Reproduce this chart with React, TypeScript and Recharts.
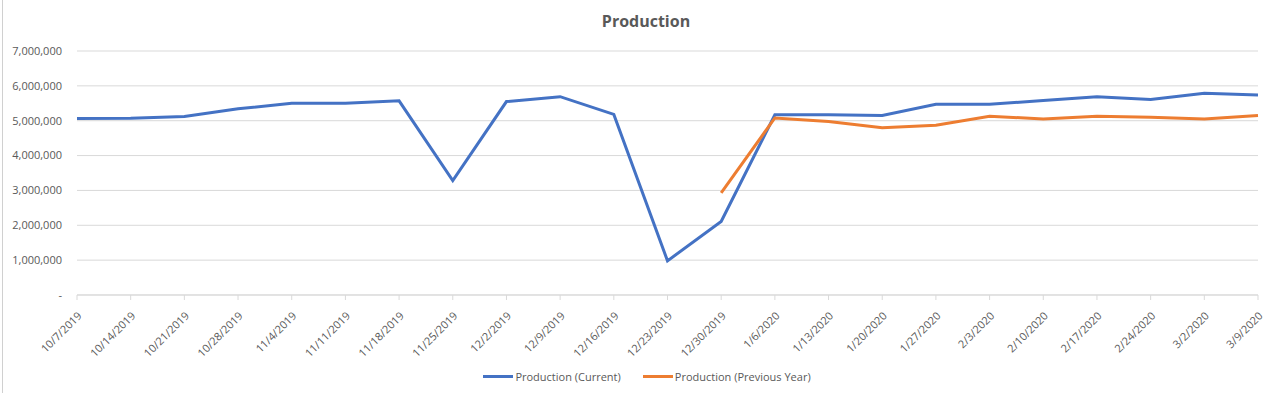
import { CartesianGrid, Legend, Line, LineChart, XAxis, YAxis } from 'recharts';

const weeks = [
  '10/7/2019', '10/14/2019', '10/21/2019', '10/28/2019', '11/4/2019', '11/11/2019',
  '11/18/2019', '11/25/2019', '12/2/2019', '12/9/2019', '12/16/2019', '12/23/2019',
  '12/30/2019', '1/6/2020', '1/13/2020', '1/20/2020', '1/27/2020', '2/3/2020',
  '2/10/2020', '2/17/2020', '2/24/2020', '3/2/2020', '3/9/2020',
];

const current = [
  5060000, 5070000, 5120000, 5340000, 5500000, 5500000,
  5570000, 3280000, 5550000, 5690000, 5180000, 980000,
  2110000, 5170000, 5170000, 5150000, 5470000, 5470000,
  5580000, 5690000, 5610000, 5790000, 5740000,
];

const previousYear: (number | null)[] = [
  null, null, null, null, null, null,
  null, null, null, null, null, null,
  2930000, 5080000, 4980000, 4800000, 4870000, 5130000,
  5050000, 5130000, 5100000, 5050000, 5150000,
];

const yTicks = [0, 1000000, 2000000, 3000000, 4000000, 5000000, 6000000, 7000000];

const data = weeks.map((week, i) => ({
  week,
  current: current[i],
  previous: previousYear[i],
}));

const font = '"Open Sans", "Noto Sans", sans-serif';
const textColor = '#595959';

const formatY = (v: number) => (v === 0 ? '-' : v.toLocaleString('en-US'));

// excel-style legend: thick line swatch butted against the label
function LegendContent({ payload }: { payload?: Array<{ value: string; color: string }> }) {
  return (
    <div style={{ display: 'flex', justifyContent: 'center', gap: 22, paddingLeft: 14 }}>
      {(payload || []).map((p) => (
        <div key={p.value} style={{ display: 'flex', alignItems: 'center' }}>
          <span style={{ display: 'inline-block', width: 30, height: 3, background: p.color }} />
          <span style={{ marginLeft: 2, color: textColor, fontSize: 11, fontFamily: font }}>{p.value}</span>
        </div>
      ))}
    </div>
  );
}

export default function App() {
  return (
    <div
      style={{
        position: 'absolute',
        left: 0,
        top: 0,
        width: 1280,
        height: 393,
        background: '#fff',
        fontFamily: font,
      }}
    >
      <div style={{ position: 'absolute', left: 2, top: 0, width: 1, height: 393, background: '#d0d0d0' }} />
      <div
        style={{
          position: 'absolute',
          top: 10,
          left: 0,
          width: 1292,
          textAlign: 'center',
          fontSize: 16,
          fontWeight: 700,
          color: textColor,
        }}
      >
        Production
      </div>
      <LineChart
        width={1280}
        height={393}
        data={data}
        margin={{ top: 51, right: 22, bottom: 0, left: 0 }}
      >
        <CartesianGrid vertical={false} stroke="#d9d9d9" strokeWidth={1} />
        <XAxis
          dataKey="week"
          interval={0}
          height={98}
          angle={-45}
          textAnchor="end"
          tick={{ fontSize: 11, fill: textColor, fontFamily: font }}
          tickSize={5}
          tickMargin={11}
          axisLine={{ stroke: '#d9d9d9' }}
          tickLine={{ stroke: '#d9d9d9' }}
        />
        <YAxis
          width={77}
          domain={[0, 7000000]}
          ticks={yTicks}
          tickFormatter={formatY}
          axisLine={false}
          tickLine={false}
          tickSize={0}
          tickMargin={15}
          tick={{ fontSize: 11, fill: textColor, fontFamily: font }}
        />
        <Legend
          verticalAlign="middle"
          content={<LegendContent />}
          wrapperStyle={{ top: 369, left: 0, width: 1280 }}
        />
        <Line
          type="linear"
          dataKey="current"
          name="Production (Current)"
          stroke="#4472C4"
          strokeWidth={3}
          dot={false}
          isAnimationActive={false}
        />
        <Line
          type="linear"
          dataKey="previous"
          name="Production (Previous Year)"
          stroke="#ED7D31"
          strokeWidth={3}
          dot={false}
          isAnimationActive={false}
        />
      </LineChart>
    </div>
  );
}
